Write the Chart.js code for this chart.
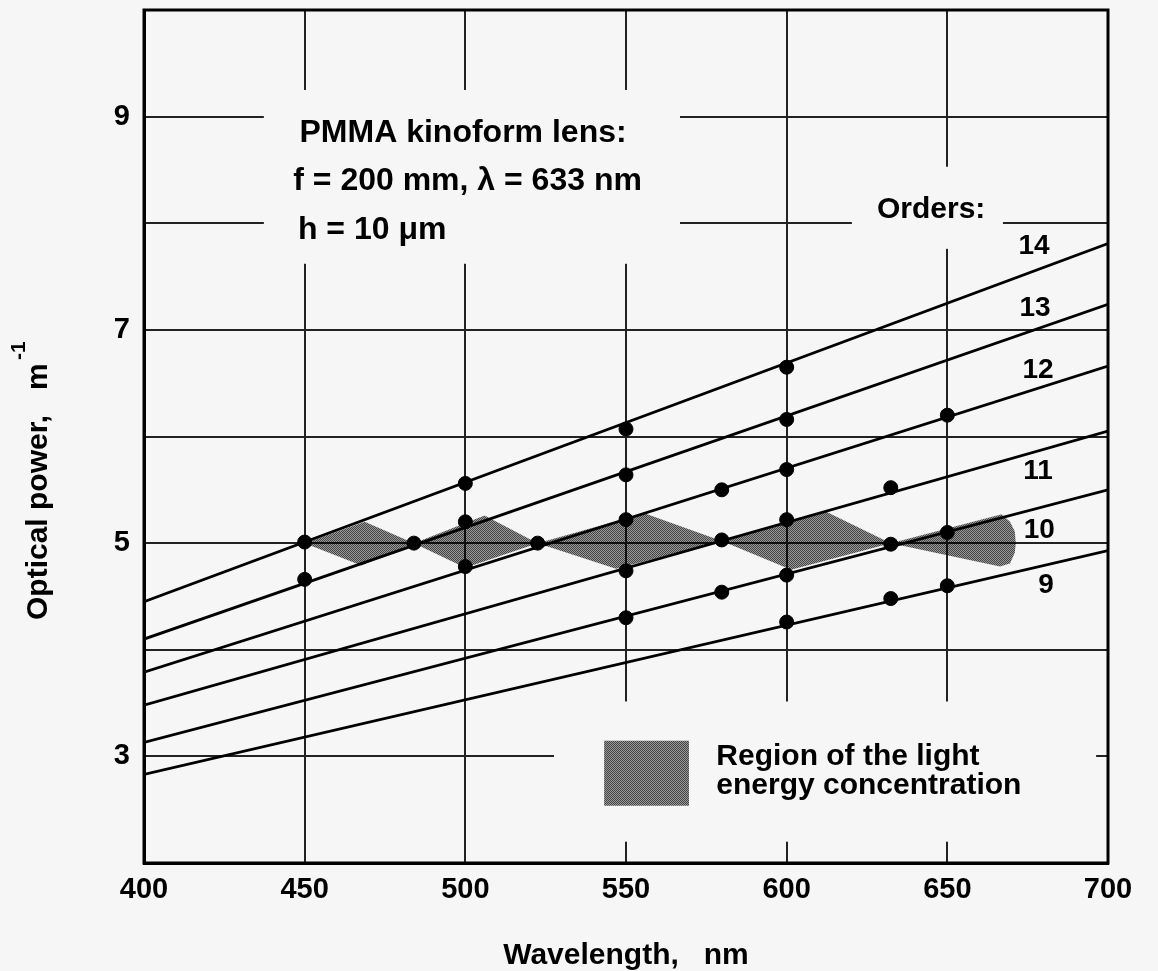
<!DOCTYPE html>
<html>
<head>
<meta charset="utf-8">
<script src="https://cdn.jsdelivr.net/npm/chart.js@4.4.1/dist/chart.umd.min.js"></script>
<style>
  html, body { margin: 0; padding: 0; background: #f6f6f6; }
  #wrap { width: 1158px; height: 971px; }
</style>
</head>
<body>
<div id="wrap"><canvas id="powerChart"></canvas></div>
<script>
// axis ticks
const wavelengthTicks = [400, 450, 500, 550, 600, 650, 700];
const powerTickLabels = [3, 5, 7, 9];

// diffraction orders: optical power of each order line at 400 nm and 700 nm
const orders = [14, 13, 12, 11, 10, 9];
const lineEndsNm = [400, 700];
const powerAt400 = [4.45, 4.10, 3.79, 3.48, 3.13, 2.83];
const powerAt700 = [7.81, 7.24, 6.66, 6.05, 5.50, 4.93];

// marked points on each order line, [nm, m^-1]
const dotsOrder14 = [[450, 5.01], [500, 5.56], [550, 6.07], [600, 6.65]];
const dotsOrder13 = [[450, 4.66], [484, 5.00], [500, 5.20], [550, 5.64], [600, 6.16]];
const dotsOrder12 = [[500, 4.78], [522.5, 5.00], [550, 5.22], [579.8, 5.50], [600, 5.69], [650, 6.20]];
const dotsOrder11 = [[550, 4.74], [579.8, 5.03], [600, 5.22], [632.4, 5.52]];
const dotsOrder10 = [[550, 4.30], [579.8, 4.54], [600, 4.70], [632.4, 4.99], [650, 5.10]];
const dotsOrder9 = [[600, 4.26], [632.4, 4.48], [650, 4.60]];

// outline of the light energy concentration region
const regionTopNm = [450, 468.7, 484, 506, 522.5, 555.7, 579.8, 612, 632.4, 666.9, 669.5, 671, 671.3];
const regionTopPower = [5.0, 5.20, 5.0, 5.26, 5.0, 5.28, 5.02, 5.30, 5.0, 5.27, 5.20, 5.11, 5.0];
const regionBottomNm = [450, 467.7, 484, 500, 522.5, 546.9, 579.8, 601.4, 632.4, 666.4, 669.5, 671, 671.3];
const regionBottomPower = [5.0, 4.79, 5.0, 4.77, 5.0, 4.76, 5.02, 4.75, 5.0, 4.78, 4.81, 4.91, 5.0];

// text notes and order numbers (data coordinates)
const notes = [
  { text: 'PMMA kinoform lens:', x: 499.3, y: 8.76, align: 'center', size: 32 },
  { text: 'f = 200 mm, \u03bb = 633 nm', x: 500.7, y: 8.31, align: 'center', size: 32 },
  { text: 'h = 10 \u03bcm', x: 447.9, y: 7.85, align: 'left', size: 32 },
  { text: 'Orders:', x: 628.1, y: 8.05, align: 'left', size: 30 },
  { text: 'Region of the light', x: 578.1, y: 2.915, align: 'left', size: 30 },
  { text: 'energy concentration', x: 578.1, y: 2.65, align: 'left', size: 30 }
];
const orderLabelNm = [677, 677.3, 678.2, 678.2, 678.6, 680.7];
const orderLabelPower = [7.71, 7.13, 6.55, 5.60, 5.05, 4.53];

// blank areas behind the notes, where the grid is interrupted
const gridGaps = [
  { x0: 437.3, x1: 566.8, y0: 7.62, y1: 9.25 },
  { x0: 620.3, x1: 667.3, y0: 7.76, y1: 8.53 },
  { x0: 527.6, x1: 696.3, y0: 2.20, y1: 3.515 }
];
const swatch = { x0: 543.2, x1: 569.6, y0: 2.537, y1: 3.147 };

const BG = '#f6f6f6';
const FONT = '"Liberation Sans", Arial, Helvetica, sans-serif';

const canvas = document.getElementById('powerChart');
const tile = document.createElement('canvas');
tile.width = 2; tile.height = 2;
const tctx = tile.getContext('2d');
tctx.fillStyle = 'rgba(0,0,0,0.72)';
tctx.fillRect(0, 0, 1, 1); tctx.fillRect(1, 1, 1, 1);
tctx.fillStyle = 'rgba(0,0,0,0.38)';
tctx.fillRect(1, 0, 1, 1); tctx.fillRect(0, 1, 1, 1);
const shade = canvas.getContext('2d').createPattern(tile, 'repeat');

const pairs = (xs, ys) => xs.map((x, i) => ({ x: x, y: ys[i] }));
const regionOutline = pairs(regionTopNm, regionTopPower)
  .concat(pairs(regionBottomNm, regionBottomPower).reverse());

const allDots = [dotsOrder14, dotsOrder13, dotsOrder12, dotsOrder11, dotsOrder10, dotsOrder9];

const datasets = [];
datasets.push({
  label: 'points',
  data: allDots.flat().map(p => ({ x: p[0], y: p[1] })),
  showLine: false,
  pointRadius: 7,
  pointBackgroundColor: '#000',
  pointBorderColor: '#000',
  pointBorderWidth: 1,
  order: 0
});
orders.forEach((m, i) => {
  datasets.push({
    label: 'order ' + m,
    data: [{ x: lineEndsNm[0], y: powerAt400[i] }, { x: lineEndsNm[1], y: powerAt700[i] }],
    borderColor: '#000',
    borderWidth: 2.8,
    pointRadius: 0,
    fill: false,
    order: 1
  });
});
datasets.push({
  label: 'region',
  data: regionOutline,
  borderColor: 'rgba(0,0,0,0)',
  borderWidth: 1,
  pointRadius: 0,
  backgroundColor: shade,
  fill: 'shape',
  order: 2
});

const decorations = {
  id: 'decorations',
  beforeDatasetsDraw(chart) {
    const ctx = chart.ctx, xs = chart.scales.x, ys = chart.scales.y;
    ctx.save();
    ctx.fillStyle = BG;
    gridGaps.forEach(g => {
      const x0 = xs.getPixelForValue(g.x0), x1 = xs.getPixelForValue(g.x1);
      const y0 = ys.getPixelForValue(g.y1), y1 = ys.getPixelForValue(g.y0);
      ctx.fillRect(x0, y0, x1 - x0, y1 - y0);
    });
    const sx0 = xs.getPixelForValue(swatch.x0), sx1 = xs.getPixelForValue(swatch.x1);
    const sy0 = ys.getPixelForValue(swatch.y1), sy1 = ys.getPixelForValue(swatch.y0);
    ctx.fillStyle = shade;
    ctx.fillRect(sx0, sy0, sx1 - sx0, sy1 - sy0);
    ctx.restore();
  },
  afterDatasetsDraw(chart) {
    const ctx = chart.ctx, xs = chart.scales.x, ys = chart.scales.y, a = chart.chartArea;
    ctx.save();
    ctx.strokeStyle = '#000';
    ctx.lineWidth = 3;
    ctx.strokeRect(a.left, a.top, a.right - a.left, a.bottom - a.top);

    ctx.fillStyle = '#000';
    ctx.textBaseline = 'alphabetic';
    notes.forEach(n => {
      ctx.font = 'bold ' + n.size + 'px ' + FONT;
      ctx.textAlign = n.align;
      ctx.fillText(n.text, xs.getPixelForValue(n.x), ys.getPixelForValue(n.y));
    });
    ctx.font = 'bold 28px ' + FONT;
    ctx.textAlign = 'center';
    orders.forEach((m, i) => {
      ctx.fillText(String(m), xs.getPixelForValue(orderLabelNm[i]), ys.getPixelForValue(orderLabelPower[i]));
    });

    // y axis title, rotated, with the -1 exponent
    ctx.rotate(-Math.PI / 2);
    ctx.textAlign = 'left';
    ctx.font = 'bold 30px ' + FONT;
    ctx.fillText('Optical power,', -620, 47);
    ctx.fillText('m', -390, 47);
    ctx.font = 'bold 21px ' + FONT;
    ctx.fillText('-1', -360, 25);
    ctx.restore();
  }
};

new Chart(canvas, {
  type: 'line',
  data: { datasets: datasets },
  options: {
    responsive: true,
    maintainAspectRatio: false,
    animation: false,
    events: [],
    layout: { padding: { left: 0, right: 50, top: 10, bottom: 0 } },
    plugins: { legend: { display: false }, tooltip: { enabled: false } },
    scales: {
      x: {
        type: 'linear',
        min: 400,
        max: 700,
        afterBuildTicks: s => { s.ticks = wavelengthTicks.map(v => ({ value: v })); },
        afterFit: s => { s.height = 108; s.paddingLeft = 0; s.paddingRight = 0; },
        grid: { color: '#222', lineWidth: 2, drawTicks: false },
        border: { color: '#000', width: 3 },
        ticks: {
          color: '#000',
          padding: 10,
          maxRotation: 0,
          autoSkip: false,
          font: { family: FONT, weight: 'bold', size: 29 }
        },
        title: {
          display: true,
          text: 'Wavelength,   nm',
          color: '#000',
          padding: { top: 0, bottom: 0 },
          font: { family: FONT, weight: 'bold', size: 30, lineHeight: 1 }
        }
      },
      y: {
        type: 'linear',
        min: 2,
        max: 10,
        afterFit: s => { s.width = 144; s.paddingTop = 0; s.paddingBottom = 0; },
        grid: { color: '#222', lineWidth: 2, drawTicks: false },
        border: { color: '#000', width: 3 },
        ticks: {
          stepSize: 1,
          color: '#000',
          padding: 14,
          autoSkip: false,
          font: { family: FONT, weight: 'bold', size: 29 },
          callback: v => powerTickLabels.includes(v) ? String(v) : ''
        }
      }
    }
  },
  plugins: [decorations]
});
</script>
</body>
</html>
